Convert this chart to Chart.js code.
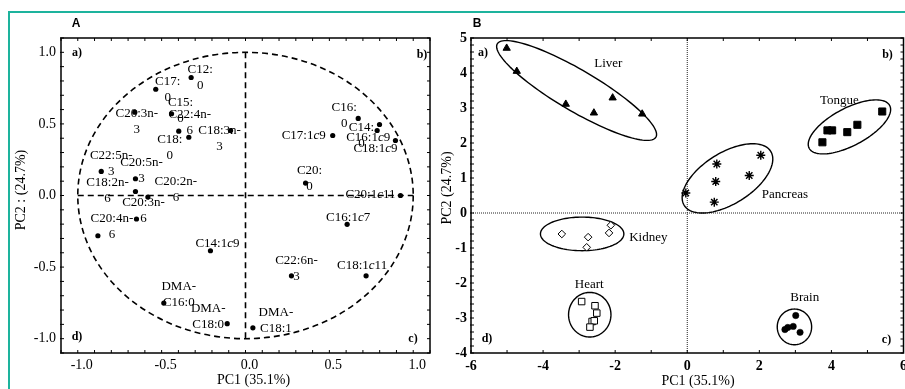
<!DOCTYPE html>
<html><head><meta charset="utf-8">
<script src="https://cdn.jsdelivr.net/npm/chart.js@4/dist/chart.umd.min.js"></script>
<style>
html,body{margin:0;padding:0;background:#fff;overflow:hidden;width:905px;height:389px;}
#frame{position:absolute;left:8px;top:11px;width:1000px;height:500px;border-top:2px solid #1db39d;border-left:2px solid #1db39d;}
#ca{position:absolute;left:0;top:0;}
#cb{position:absolute;left:430px;top:0;}
</style></head><body>
<div id="frame"></div>
<canvas id="ca" width="450" height="389"></canvas>
<canvas id="cb" width="490" height="389"></canvas>
<script>
// ---------- Panel A: fatty-acid loadings ----------
const faLabels = [
  ["C12:","0"],["C17:","0"],["C20:3n-","3"],["C15:","0"],["C22:4n-","6"],["C18:","0"],["C18:3n-","3"],
  ["C22:5n-","3"],["C20:5n-","3"],["C18:2n-","6"],["C20:2n-","6"],["C20:3n-","6"],["C20:4n-","6"],
  ["C14:1c9"],["DMA-","C16:0"],["DMA-","C18:0"],["DMA-","C18:1"],["C22:6n-","3"],["C18:1c11"],
  ["C16:1c7"],["C20:1c11"],["C20:","0"],["C17:1c9"],["C16:","0"],["C14:","0"],["C16:1c9"],["C18:1c9"]
];
const faX = [-0.324,-0.535,-0.660,-0.441,-0.398,-0.338,-0.089,
  -0.860,-0.656,-0.656,-0.582,-0.650,-0.880,
  -0.209,-0.487,-0.109,0.044,0.274,0.719,
  0.606,0.924,0.358,0.520,0.672,0.799,0.785,0.894];
const faY = [0.824,0.742,0.582,0.571,0.449,0.407,0.454,
  0.168,0.117,0.028,-0.011,-0.164,-0.281,
  -0.386,-0.751,-0.895,-0.924,-0.561,-0.561,
  -0.201,0.000,0.087,0.419,0.538,0.496,0.454,0.384];
const xTicksA = [-1.0,-0.5,0.0,0.5,1.0];
const yTicksA = [-1.0,-0.5,0.0,0.5,1.0];

// ---------- Panel B: tissue scores ----------
const groupNames = ["Liver","Tongue","Pancreas","Kidney","Heart","Brain"];
const liverX = [-5.01,-4.73,-3.37,-2.59,-2.07,-1.25];
const liverY = [4.71,4.05,3.11,2.86,3.29,2.83];
const tongueX = [3.75,3.89,4.02,4.44,4.72,5.41];
const tongueY = [2.02,2.36,2.36,2.31,2.52,2.90];
const pancreasX = [-0.04,0.82,0.79,2.04,1.72,0.75];
const pancreasY = [0.57,1.40,0.90,1.65,1.07,0.31];
const kidneyX = [-3.48,-2.75,-2.79,-2.17,-2.12];
const kidneyY = [-0.60,-0.69,-0.98,-0.57,-0.35];
const heartX = [-2.93,-2.56,-2.51,-2.64,-2.58,-2.70];
const heartY = [-2.53,-2.65,-2.86,-3.10,-3.08,-3.26];
const brainX = [3.01,2.71,2.79,2.94,3.13];
const brainY = [-2.93,-3.33,-3.27,-3.24,-3.41];
const xTicksB = [-6,-4,-2,0,2,4,6];
const yTicksB = [-4,-3,-2,-1,0,1,2,3,4,5];
// group label anchors and enclosing ellipses (data units)
const groupLabelX = [-2.19,4.22,2.71,-1.08,-2.72,3.26];
const groupLabelY = [4.27,3.22,0.54,-0.69,-2.05,-2.43];
const groupEllipses = [
  {cx:-3.07,cy:3.50,ux:2.20,uy:-1.334,vx:-0.289,vy:-0.505},
  {cx:4.50,cy:2.46,ux:1.117,uy:0.611,vx:0.243,vy:-0.472},
  {cx:1.116,cy:0.989,ux:1.20,uy:0.772,vx:0.376,vy:-0.62},
  {cx:-2.916,cy:-0.597,ux:1.157,uy:0,vx:0,vy:0.48},
  {cx:-2.705,cy:-2.906,ux:0.588,uy:0,vx:0,vy:0.637},
  {cx:2.974,cy:-3.254,ux:0.477,uy:0,vx:0,vy:0.509}
];

// ---------- styling helpers ----------
const SERIF = '"Liberation Serif","Times New Roman",serif';
const labelOffsetA = [[9,-8],[12,-8],[2,1],[9,-11],[11,-17],[-19,2],[-11,0],
  [10,-16],[6,-16],[-28,-9],[28,-15],[7,-16],[14,-17],
  [7,-7],[15,-16],[-19,-15],[23,-15],[5,-15],[-4,-10],
  [1,-7],[-30,-1],[4,-12],[-29,0],[-14,-11],[-18,3],[-9,7],[-20,8]];

function richSegments(s){
  const segs=[]; let cur='';
  for(let i=0;i<s.length;i++){
    const ch=s[i];
    if(ch==='c' && /\d/.test(s[i-1]||'') && /\d/.test(s[i+1]||'')){
      if(cur) segs.push({t:cur,it:false}); segs.push({t:'c',it:true}); cur='';
    } else cur+=ch;
  }
  if(cur) segs.push({t:cur,it:false});
  return segs;
}
function drawRich(ctx,s,cx,cy,size){
  const segs=richSegments(s); let w=0;
  segs.forEach(g=>{ctx.font=(g.it?'italic ':'')+size+'px '+SERIF; g.w=ctx.measureText(g.t).width; w+=g.w;});
  let x=cx-w/2; ctx.textAlign='left'; ctx.textBaseline='middle';
  segs.forEach(g=>{ctx.font=(g.it?'italic ':'')+size+'px '+SERIF; ctx.fillText(g.t,x,cy); x+=g.w;});
}
function minorTicks(ctx,chart,xStep,yStep,len){
  const a=chart.chartArea, xs=chart.scales.x, ys=chart.scales.y;
  ctx.beginPath();
  for(let v=Math.ceil(xs.min/xStep-1e-9)*xStep; v<=xs.max+1e-9; v+=xStep){
    const p=xs.getPixelForValue(v);
    ctx.moveTo(p,a.bottom); ctx.lineTo(p,a.bottom-len);
    ctx.moveTo(p,a.top); ctx.lineTo(p,a.top+len);
  }
  for(let v=Math.ceil(ys.min/yStep-1e-9)*yStep; v<=ys.max+1e-9; v+=yStep){
    const p=ys.getPixelForValue(v);
    ctx.moveTo(a.left-1,p); ctx.lineTo(a.left+len,p);
    ctx.moveTo(a.right,p); ctx.lineTo(a.right-len,p);
  }
  ctx.stroke();
}
function frame(ctx,a,w){ctx.lineWidth=w; ctx.strokeStyle='#000'; ctx.setLineDash([]); ctx.strokeRect(a.left,a.top,a.right-a.left,a.bottom-a.top);}

const plugA = {
  id:'plugA',
  beforeDatasetsDraw(chart){
    const ctx=chart.ctx, xs=chart.scales.x, ys=chart.scales.y;
    ctx.save(); ctx.strokeStyle='#000'; ctx.lineWidth=1.6; ctx.setLineDash([6,4]);
    const cx=xs.getPixelForValue(0), cy=ys.getPixelForValue(0);
    const rx=xs.getPixelForValue(1)-cx, ry=cy-ys.getPixelForValue(1);
    ctx.beginPath(); ctx.ellipse(cx,cy,rx,ry,0,0,Math.PI*2); ctx.stroke();
    ctx.beginPath(); ctx.moveTo(xs.getPixelForValue(-1),cy); ctx.lineTo(xs.getPixelForValue(1),cy);
    ctx.moveTo(cx,ys.getPixelForValue(1)); ctx.lineTo(cx,ys.getPixelForValue(-1)); ctx.stroke();
    ctx.restore();
  },
  afterDatasetsDraw(chart){
    const ctx=chart.ctx, a=chart.chartArea, meta=chart.getDatasetMeta(0);
    ctx.save(); ctx.fillStyle='#000';
    meta.data.forEach((el,i)=>{
      const o=labelOffsetA[i];
      faLabels[i].forEach((line,k)=>drawRich(ctx,line,el.x+o[0],el.y+o[1]+k*16,13));
    });
    frame(ctx,a,1.5); ctx.lineWidth=1; minorTicks(ctx,chart,0.1,0.1,3);
    ctx.font='bold 12px '+SERIF; ctx.textBaseline='middle'; ctx.textAlign='center';
    ctx.fillText('a)',a.left+16,a.top+15); ctx.fillText('b)',a.right-8,a.top+17);
    ctx.fillText('d)',a.left+16,a.bottom-16); ctx.fillText('c)',a.right-17,a.bottom-14);
    ctx.font='14px '+SERIF; ctx.fillText('PC1 (35.1%)',(a.left+a.right)/2+8,380);
    ctx.save(); ctx.translate(21,190); ctx.rotate(-Math.PI/2); ctx.fillText('PC2 : (24.7%)',0,0); ctx.restore();
    ctx.font='bold 12px "Liberation Sans",Arial,sans-serif'; ctx.fillText('A',76,24);
    ctx.restore();
  }
};

const plugB = {
  id:'plugB',
  beforeDatasetsDraw(chart){
    const ctx=chart.ctx, a=chart.chartArea, xs=chart.scales.x, ys=chart.scales.y;
    ctx.save(); ctx.strokeStyle='#222'; ctx.lineWidth=1; ctx.setLineDash([1,1]);
    const x0=xs.getPixelForValue(0), y0=ys.getPixelForValue(0);
    ctx.beginPath(); ctx.moveTo(x0,a.top); ctx.lineTo(x0,a.bottom); ctx.moveTo(a.left,y0); ctx.lineTo(a.right,y0); ctx.stroke();
    ctx.setLineDash([]); ctx.strokeStyle='#000'; ctx.lineWidth=1.4;
    groupEllipses.forEach(e=>{
      ctx.beginPath();
      for(let k=0;k<=120;k++){
        const t=k/120*Math.PI*2;
        const px=xs.getPixelForValue(e.cx+e.ux*Math.cos(t)+e.vx*Math.sin(t));
        const py=ys.getPixelForValue(e.cy+e.uy*Math.cos(t)+e.vy*Math.sin(t));
        if(k===0) ctx.moveTo(px,py); else ctx.lineTo(px,py);
      }
      ctx.closePath(); ctx.stroke();
    });
    ctx.restore();
  },
  afterDatasetsDraw(chart){
    const ctx=chart.ctx, a=chart.chartArea, xs=chart.scales.x, ys=chart.scales.y;
    ctx.save(); ctx.fillStyle='#000';
    frame(ctx,a,1.5); ctx.lineWidth=1; minorTicks(ctx,chart,1,0.2,3);
    ctx.font='13px '+SERIF; ctx.textAlign='center'; ctx.textBaseline='middle';
    groupNames.forEach((n,i)=>ctx.fillText(n,xs.getPixelForValue(groupLabelX[i]),ys.getPixelForValue(groupLabelY[i])));
    ctx.font='bold 12px '+SERIF;
    ctx.fillText('a)',a.left+12,a.top+15); ctx.fillText('b)',a.right-16,a.top+17);
    ctx.fillText('d)',a.left+16,a.bottom-14); ctx.fillText('c)',a.right-17,a.bottom-13);
    ctx.font='14px '+SERIF; ctx.fillText('PC1 (35.1%)',268,381);
    ctx.save(); ctx.translate(17,188); ctx.rotate(-Math.PI/2); ctx.fillText('PC2 (24.7%)',0,0); ctx.restore();
    ctx.font='bold 12px "Liberation Sans",Arial,sans-serif'; ctx.fillText('B',47,24);
    ctx.restore();
  }
};

function axisA(min,max,ticksArr,isX){
  return {type:'linear',min,max,
    afterBuildTicks:s=>{s.ticks=ticksArr.map(v=>({value:v}));},
    afterFit:s=>{ if(isX) s.height=36; else s.width=61; },
    grid:{display:false,drawTicks:false}, border:{display:false},
    ticks:{padding:isX?4:5,labelOffset:isX?4:0,color:'#000',font:{family:SERIF,size:14},callback:v=>Number(v).toFixed(1)}};
}
function axisB(min,max,ticksArr,isX){
  return {type:'linear',min,max,
    afterBuildTicks:s=>{s.ticks=ticksArr.map(v=>({value:v}));},
    afterFit:s=>{ if(isX) s.height=36; else s.width=41; },
    grid:{display:false,drawTicks:false}, border:{display:false},
    ticks:{padding:isX?5:4,color:'#000',font:{family:SERIF,size:14,weight:'bold'},callback:v=>String(v)}};
}
const common = {responsive:false,animation:false,events:[],devicePixelRatio:1,
  plugins:{legend:{display:false},tooltip:{enabled:false}}};

new Chart(document.getElementById('ca'),{
  type:'scatter',
  data:{datasets:[{data:faX.map((x,i)=>({x,y:faY[i]})),pointStyle:'circle',pointRadius:2.6,pointHoverRadius:2.6,
    backgroundColor:'#000',borderColor:'#000',borderWidth:0}]},
  options:Object.assign({},common,{layout:{padding:{left:0,right:20,top:38,bottom:0}},
    scales:{x:axisA(-1.1,1.1,xTicksA,true),y:axisA(-1.1,1.1,yTicksA,false)}}),
  plugins:[plugA]
});

function ds(xs,ys,style,r,fill,bw){
  return {data:xs.map((x,i)=>({x,y:ys[i]})),pointStyle:style,pointRadius:r,pointHoverRadius:r,
    backgroundColor:fill,borderColor:'#000',borderWidth:bw};
}
new Chart(document.getElementById('cb'),{
  type:'scatter',
  data:{datasets:[
    ds(liverX,liverY,'triangle',4.2,'#000',1),
    ds(tongueX,tongueY,'rect',5,'#000',1),
    ds(pancreasX,pancreasY,'star',4.5,'#000',1.4),
    ds(kidneyX,kidneyY,'rectRot',3.8,'#fff',1),
    ds(heartX,heartY,'rect',4.6,'#fff',1),
    ds(brainX,brainY,'circle',3.2,'#000',0.5)
  ]},
  options:Object.assign({},common,{layout:{padding:{left:0,right:16.5,top:38,bottom:0}},
    scales:{x:axisB(-6,6,xTicksB,true),y:axisB(-4,5,yTicksB,false)}}),
  plugins:[plugB]
});
</script>
</body></html>
